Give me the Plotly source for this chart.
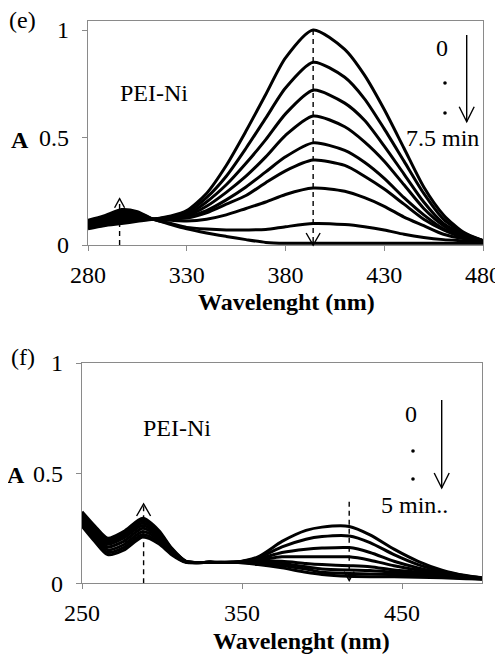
import plotly.graph_objects as go

# ---------------- data ----------------
top_wl = [280, 288, 297, 305, 313, 322, 330, 340, 350, 360, 370, 380, 394,
          410, 420, 430, 440, 450, 460, 470, 480]
top_c0 = [.075, .09, .10, .11, .12, .135, .16, .24, .37, .53, .70, .87, 1.00, .91, .79, .63, .45, .27, .14, .06, .02]
top_c1 = [.08, .095, .11, .117, .12, .132, .15, .22, .32, .45, .59, .73, .85, .78, .68, .54, .39, .24, .12, .055, .02]
top_c2 = [.085, .10, .12, .123, .12, .13, .14, .20, .28, .38, .49, .61, .72, .66, .58, .46, .33, .20, .10, .05, .02]
top_c3 = [.09, .105, .13, .13, .12, .127, .135, .18, .245, .32, .41, .51, .60, .55, .48, .39, .28, .17, .09, .045, .02]
top_c4 = [.095, .11, .137, .135, .12, .124, .13, .16, .21, .27, .34, .41, .475, .44, .385, .31, .22, .14, .075, .04, .02]
top_c5 = [.10, .117, .145, .14, .12, .12, .125, .15, .19, .23, .29, .345, .395, .37, .32, .26, .19, .12, .07, .035, .02]
top_c6 = [.105, .123, .152, .145, .12, .115, .112, .12, .14, .17, .20, .235, .265, .25, .22, .18, .13, .09, .05, .03, .02]
top_c7 = [.11, .13, .158, .15, .12, .10, .082, .074, .07, .07, .072, .085, .10, .095, .085, .07, .05, .035, .025, .02, .015]
top_c8 = [.115, .135, .165, .155, .12, .095, .075, .056, .04, .025, .012, .008, .008, .008, .008, .008, .008, .008, .008, .008, .008]
top_series = [top_c0, top_c1, top_c2, top_c3, top_c4, top_c5, top_c6, top_c7, top_c8]

bot_wl = [250, 258, 266, 276, 288, 298, 306, 315, 330, 345,
          360, 375, 390, 400, 417, 430, 445, 460, 475, 490, 500]
bot_c0 = [.26, .19, .13, .15, .21, .18, .13, .095, .095, .095, .12, .19, .24, .255, .258, .22, .155, .10, .06, .035, .025]
bot_c1 = [.27, .20, .14, .162, .222, .188, .135, .096, .095, .095, .115, .165, .20, .212, .215, .185, .13, .085, .055, .033, .024]
bot_c2 = [.28, .21, .152, .175, .235, .198, .14, .097, .095, .095, .11, .14, .155, .16, .162, .14, .10, .07, .048, .03, .023]
bot_c3 = [.29, .22, .165, .19, .25, .208, .145, .098, .095, .095, .105, .12, .12, .12, .12, .105, .08, .06, .042, .028, .022]
bot_c4 = [.30, .23, .177, .205, .262, .216, .15, .098, .095, .095, .10, .10, .09, .085, .08, .075, .06, .05, .037, .026, .021]
bot_c5 = [.308, .24, .187, .215, .274, .225, .153, .099, .095, .095, .095, .09, .075, .065, .06, .058, .05, .042, .033, .025, .02]
bot_c6 = [.316, .25, .196, .225, .285, .232, .157, .10, .095, .095, .09, .08, .065, .05, .045, .042, .04, .035, .03, .023, .02]
bot_c7 = [.325, .26, .205, .235, .295, .24, .16, .10, .095, .095, .085, .07, .05, .04, .032, .03, .03, .028, .025, .021, .019]
bot_series = [bot_c0, bot_c1, bot_c2, bot_c3, bot_c4, bot_c5, bot_c6, bot_c7]

top_xticks = [280, 330, 380, 430, 480]
bot_xticks = [250, 350, 450]
y_ticks = [0, 0.5, 1]
y_ticktext = ["0", "0.5", "1"]

# dashed marker lines: (x, y_from, y_to(tip), head direction)
top_dashed = [(394, 1.0, 0.0, "down"), (296, 0.0, 0.215, "up")]
bot_dashed = [(288.5, 0.0, 0.36, "up"), (417, 0.37, 0.012, "down")]

# ---------------- geometry ----------------
OFF = 8                      # default page margin of the html body
WIN_W, WIN_H = 503, 660
W, H = WIN_W - OFF, WIN_H - OFF
FONT = "'Liberation Serif', 'Times New Roman', Times, 'DejaVu Serif', serif"
AXC = "#8a8a8a"


def P(px, py):
    """window pixel -> paper coords"""
    return (px - OFF) / W, 1 - (py - OFF) / H


top_xdom = [P(88, 0)[0], P(483, 0)[0]]
top_ydom = [P(0, 245)[1], P(0, 21)[1]]
top_xr = [280, 480]
top_yr = [0, 224 / 215]
bot_xdom = [P(82, 0)[0], P(482, 0)[0]]
bot_ydom = [P(0, 583.3)[1], P(0, 363)[1]]
bot_xr = [250, 500]
bot_yr = [0, 1]


def data_px(xdom, ydom, xr, yr, x, y):
    px = (xdom[0] + (x - xr[0]) / (xr[1] - xr[0]) * (xdom[1] - xdom[0])) * W + OFF
    py = (1 - (ydom[0] + (y - yr[0]) / (yr[1] - yr[0]) * (ydom[1] - ydom[0]))) * H + OFF
    return px, py


def vhead(tx, ty, hw, h, direction):
    s = -1 if direction == "down" else 1
    a = P(tx - hw, ty + s * h)
    b = P(tx, ty)
    c = P(tx + hw, ty + s * h)
    return dict(type="path", xref="paper", yref="paper",
                path=f"M {a[0]},{a[1]} L {b[0]},{b[1]} L {c[0]},{c[1]}",
                line=dict(color="black", width=1.4))


fig = go.Figure()

for s in top_series:
    fig.add_trace(go.Scatter(x=top_wl, y=s, mode="lines", xaxis="x", yaxis="y",
                             line=dict(color="black", width=3, shape="spline", smoothing=0.7),
                             hoverinfo="skip"))
for s in bot_series:
    fig.add_trace(go.Scatter(x=bot_wl, y=s, mode="lines", xaxis="x2", yaxis="y2",
                             line=dict(color="black", width=3, shape="spline", smoothing=0.7),
                             hoverinfo="skip"))

shapes = []
for (x, y0, y1, d), xr_ in [(t, "x") for t in top_dashed] + [(t, "x2") for t in bot_dashed]:
    yref = "y" if xr_ == "x" else "y2"
    shapes.append(dict(type="line", xref=xr_, yref=yref, x0=x, x1=x, y0=y0, y1=y1,
                       line=dict(color="black", width=1.4, dash="5px,4px")))
    if xr_ == "x":
        tx, ty = data_px(top_xdom, top_ydom, top_xr, top_yr, x, y1)
    else:
        tx, ty = data_px(bot_xdom, bot_ydom, bot_xr, bot_yr, x, y1)
    big = (xr_ == "x2" and d == "up") or (xr_ == "x" and d == "down")
    hw, hh = (7, 12) if big else (5, 9)
    shapes.append(vhead(tx, ty, hw, hh, d))

# time arrows
for (ax, ay0, ay1) in [(466.7, 35, 121.7), (441.7, 400, 488)]:
    a, b = P(ax, ay0), P(ax, ay1)
    shapes.append(dict(type="line", xref="paper", yref="paper", x0=a[0], x1=b[0], y0=a[1], y1=b[1],
                       line=dict(color="black", width=1.4)))
    shapes.append(vhead(ax, ay1, 7.5, 15, "down"))

# dots
for (dx, dy) in [(445, 83), (445, 113), (413, 451), (413, 479)]:
    c0 = P(dx - 1.8, dy + 1.8)
    c1 = P(dx + 1.8, dy - 1.8)
    shapes.append(dict(type="circle", xref="paper", yref="paper", x0=c0[0], x1=c1[0], y0=c0[1], y1=c1[1],
                       fillcolor="black", line=dict(color="black", width=0)))

annos = []


def txt(t, px, py, size=24, bold=False):
    x, y = P(px, py)
    annos.append(dict(text=f"<b>{t}</b>" if bold else t, x=x, y=y, xref="paper", yref="paper",
                      showarrow=False, xanchor="center", yanchor="middle",
                      font=dict(family=FONT, size=size, color="black")))


txt("(e)", 22, 20)
txt("(f)", 23, 357)
txt("A", 19.5, 140, bold=True)
txt("A", 15.8, 475, bold=True)
txt("PEI-Ni", 153.5, 93)
txt("PEI-Ni", 176.5, 428)
txt("0", 441.7, 48)
txt("7.5 min", 442.5, 138)
txt("0", 411, 414)
txt("5 min..", 414, 505)
txt("Wavelenght (nm)", 286.5, 302, bold=True)
txt("Wavelenght (nm)", 301, 641, bold=True)

tickfont = dict(family=FONT, size=24, color="black")
axcommon = dict(showline=True, linecolor=AXC, linewidth=1.3, mirror=True, ticks="outside",
                ticklen=5, tickcolor=AXC, tickwidth=1.3, showgrid=False, zeroline=False,
                tickfont=tickfont, fixedrange=True, automargin=False)

fig.update_layout(
    width=W, height=H, margin=dict(l=0, r=0, t=0, b=0, autoexpand=False),
    paper_bgcolor="white", plot_bgcolor="white", showlegend=False,
    font=dict(family=FONT),
    xaxis=dict(domain=top_xdom, range=top_xr, tickvals=top_xticks, anchor="y",
               ticklabelstandoff=3, **axcommon),
    yaxis=dict(domain=top_ydom, range=top_yr, tickvals=y_ticks, ticktext=y_ticktext, anchor="x",
               ticklabelstandoff=8, **axcommon),
    xaxis2=dict(domain=bot_xdom, range=bot_xr, tickvals=bot_xticks, anchor="y2",
                ticklabelstandoff=3, **axcommon),
    yaxis2=dict(domain=bot_ydom, range=bot_yr, tickvals=y_ticks, ticktext=y_ticktext, anchor="x2",
                ticklabelstandoff=8, **axcommon),
    shapes=shapes, annotations=annos,
)

fig.write_html("out.html")
